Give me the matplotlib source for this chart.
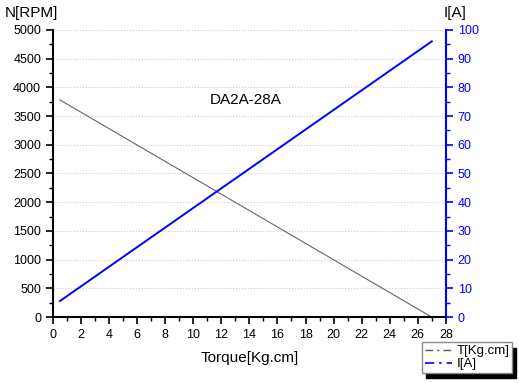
import numpy as np
import matplotlib.pyplot as plt
from matplotlib.ticker import MultipleLocator
from matplotlib.lines import Line2D

plt.rcParams['font.family'] = ['Liberation Sans', 'DejaVu Sans']

# data
torque = [0.5, 27.0]
speed_rpm = [3780, 0]
current_a = [5.6, 96.0]

fig = plt.figure(figsize=(5.19, 3.83), dpi=100)
ax = fig.add_axes([0.102, 0.172, 0.757, 0.750])
ax2 = ax.twinx()

ax.plot(torque, speed_rpm, color='#666666', linewidth=0.8)
ax2.plot(torque, current_a, color='blue', linewidth=1.4)

ax.set_xlim(0, 28)
ax.set_ylim(0, 5000)
ax2.set_ylim(0, 100)

ax.xaxis.set_major_locator(MultipleLocator(2))
ax.xaxis.set_minor_locator(MultipleLocator(1))
ax.yaxis.set_major_locator(MultipleLocator(500))
ax.yaxis.set_minor_locator(MultipleLocator(250))
ax2.yaxis.set_major_locator(MultipleLocator(10))
ax2.yaxis.set_minor_locator(MultipleLocator(5))

ax.grid(axis='y', linestyle=':', color='#cccccc', linewidth=0.8)

for a in (ax, ax2):
    a.spines['top'].set_visible(False)
ax.spines['right'].set_visible(False)
ax2.spines['left'].set_visible(False)
ax2.spines['bottom'].set_visible(False)
ax.spines['left'].set_linewidth(1.5)
ax.spines['bottom'].set_linewidth(1.5)
ax2.spines['right'].set_color('blue')
ax2.spines['right'].set_linewidth(1.5)

ax.tick_params(which='major', direction='out', length=5, width=1.2, labelsize=9)
ax.tick_params(which='minor', direction='out', length=3, width=1.0)
ax2.tick_params(which='major', direction='out', length=5, width=1.2, labelsize=9,
                colors='blue')
ax2.tick_params(which='minor', direction='out', length=3, width=1.0, colors='blue')

ax.set_xlabel('Torque[Kg.cm]', fontsize=11, labelpad=7)
fig.text(0.06, 0.965, 'N[RPM]', fontsize=11, ha='center', va='center')
fig.text(0.876, 0.965, 'I[A]', fontsize=11, ha='center', va='center')
ax.text(0.49, 0.755, 'DA2A-28A', transform=ax.transAxes, fontsize=11,
        ha='center', va='center')

# legend handles: dash-dot-dash like the original
handles = [
    Line2D([], [], color='#555555', linewidth=1.0, dashes=(5.5, 3, 1.5, 3)),
    Line2D([], [], color='blue', linewidth=1.2, dashes=(5.5, 3, 1.5, 3)),
]
leg = fig.legend(handles, ['T[Kg.cm]', 'I[A]'], loc='upper left',
                 bbox_to_anchor=(0.813, 0.106), fontsize=9.5, frameon=True,
                 fancybox=False, handlelength=2.1,
                 shadow={'ox': 3, 'oy': -4, 'color': 'black', 'alpha': 1.0},
                 borderpad=0.2, labelspacing=0.05, handletextpad=0.3,
                 borderaxespad=0)
leg.get_frame().set_edgecolor('#888888')
leg.get_frame().set_linewidth(1.0)

fig.savefig('out.png', dpi=100)
